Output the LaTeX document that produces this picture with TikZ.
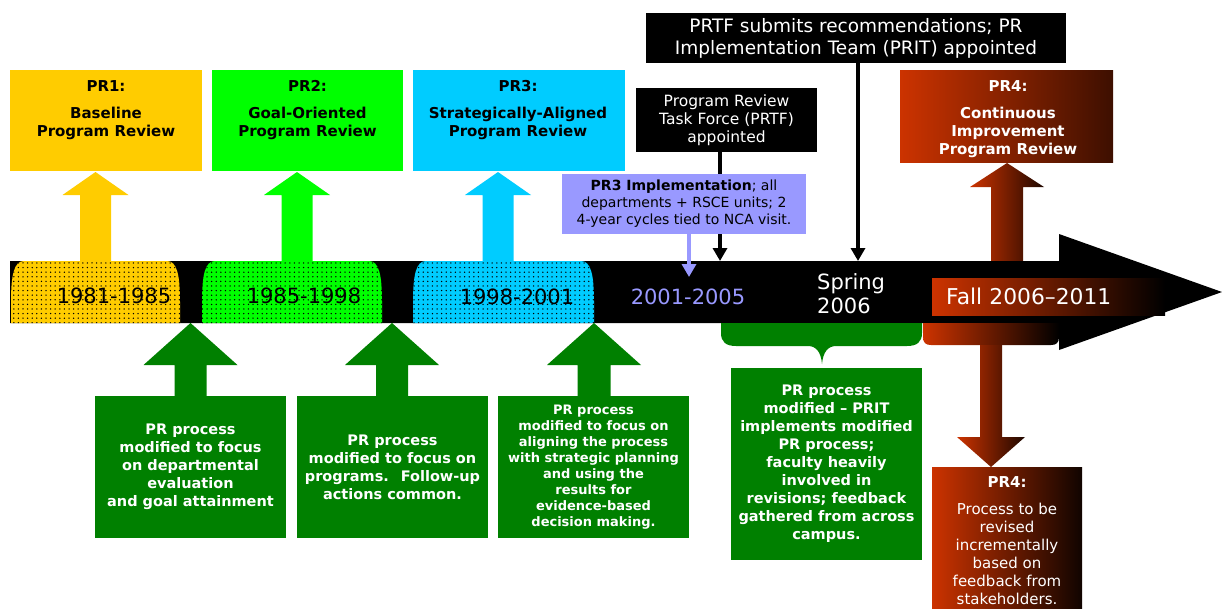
\documentclass[tikz,border=0pt]{standalone}
\usepackage{fontspec}
\setmainfont{DejaVu Sans}
\usetikzlibrary{arrows.meta,patterns.meta}
\definecolor{ylw}{HTML}{FFCC00}
\definecolor{lgrn}{HTML}{00FF00}
\definecolor{cyn}{HTML}{00CCFF}
\definecolor{dgrn}{HTML}{008000}
\definecolor{lav}{HTML}{9999FF}
\definecolor{orng}{HTML}{CC3300}
\begin{document}
\begin{tikzpicture}[x=1pt,y=-1pt,
  blkup/.style n args={6}{insert path={(#1-#6,#4) -- (#1-#6,#3) -- (#1-#5,#3) -- (#1,#2) -- (#1+#5,#3) -- (#1+#6,#3) -- (#1+#6,#4) -- cycle}},
  bump/.style 2 args={insert path={(#1,323) -- (#1,302) .. controls (#1,275) and (#1+3,261) .. (#1+13,261) -- (#2-13,261) .. controls (#2-3,261) and (#2,275) .. (#2,302) -- (#2,323) -- cycle}},
  dotpat/.style={pattern={Dots[radius=0.75pt,distance=4.6pt]}, pattern color=black},
  tbox/.style={minimum height=101pt, inner sep=0pt},
  toptxt/.style={font=\fontsize{15}{18}\selectfont\bfseries, align=center, inner sep=0pt, anchor=north},
  gbox/.style={fill=dgrn, text=white, font=\fontsize{14.5}{18}\selectfont\bfseries, align=center, minimum width=191pt, minimum height=142pt, inner sep=0pt},
  yr/.style={font=\fontsize{21}{24}\selectfont, inner sep=0pt},
  thinarr/.style={line width=4pt, -{Triangle[width=14pt,length=13pt]}}
]
\useasboundingbox (0,0) rectangle (1222,608);

% top block arrows
\fill[ylw, blkup={95.5}{172}{195}{261}{33}{15.5}];
\fill[lgrn, blkup={297}{172}{195}{261}{33}{15.5}];
\fill[cyn, blkup={498}{172}{195}{261}{33}{15.5}];
\shade[left color=orng, right color=orng!15!black, blkup={1007}{163}{187}{261}{37}{16}];

% top boxes
\node[tbox, fill=ylw, minimum width=192pt] (pr1) at (106,120.5) {};
\node[toptxt] (pr1t) at (106,80.5) {PR1:\\[9pt]Baseline\\Program Review};
\node[tbox, fill=lgrn, minimum width=191pt] (pr2) at (307.5,120.5) {};
\node[toptxt] (pr2t) at (307.5,80.5) {PR2:\\[9pt]Goal-Oriented\\Program Review};
\node[tbox, fill=cyn, minimum width=212pt] (pr3) at (519,120.5) {};
\node[toptxt] (pr3t) at (518,80.5) {PR3:\\[9pt]Strategically-Aligned\\Program Review};
\node[inner sep=0pt, minimum width=213pt, minimum height=92pt, left color=orng, right color=orng!30!black] (pr4) at (1006.5,116) {};
\node[toptxt, text=white] (pr4t) at (1008,80.5) {PR4:\\[9pt]Continuous\\Improvement\\Program Review};

% PRTF / PRIT boxes
\node[fill=black, text=white, font=\fontsize{15.5}{18}\selectfont, align=center, minimum width=181pt, minimum height=64pt, inner sep=0pt] (prtf) at (726.5,120) {Program Review\\Task Force (PRTF)\\appointed};
\node[fill=black, text=white, font=\fontsize{18.5}{22}\selectfont, align=center, minimum width=420pt, minimum height=50pt, inner sep=0pt] (prit) at (856,38) {PRTF submits recommendations; PR\\Implementation Team (PRIT) appointed};
\coordinate (t1) at (720,261);
\coordinate (t2) at (858,261);
\coordinate (t3) at (689,277);
\draw[thinarr] (prtf.south -| t1) -- (t1);
\draw[thinarr] (prit.south -| t2) -- (t2);
\node[fill=lav, text=black, font=\fontsize{14}{17}\selectfont, align=center, minimum width=244pt, minimum height=60pt, inner sep=0pt] (lav) at (684,204) {\textbf{PR3 Implementation}; all\\departments + RSCE units; 2\\4-year cycles tied to NCA visit.};

% timeline bar
\fill[black] (10,261) -- (1059,261) -- (1059,234) -- (1222,292) -- (1059,350) -- (1059,323) -- (10,323) -- cycle;
\draw[lav, thinarr] (lav.south -| t3) -- (t3);

% bumps
\fill[ylw, bump={11}{180}];
\fill[dotpat, bump={11}{180}];
\fill[lgrn, bump={202}{382}];
\fill[dotpat, bump={202}{382}];
\fill[cyn, bump={413}{594}];
\fill[dotpat, bump={413}{594}];

\node[yr] (y1) at (114,296) {1981-1985};
\node[yr] (y2) at (304,296) {1985-1998};
\node[yr] (y3) at (517,297) {1998-2001};
\node[yr, text=lav] (y4) at (688,297) {2001-2005};
\node[yr, text=white, align=left, anchor=west] (y5) at (817,294) {Spring\\2006};
\node[font=\fontsize{21.8}{24}\selectfont, text=white, anchor=west, minimum width=233pt, minimum height=37pt, text width=205pt, align=left, inner xsep=14pt, inner ysep=0pt, left color=orng, right color=black] (fall) at (932,296.5) {Fall 2006–2011};

% bottom block arrows
\fill[dgrn, blkup={190.5}{323}{365}{396}{47}{16}];
\fill[dgrn, blkup={392}{323}{365}{396}{47}{16}];
\fill[dgrn, blkup={594}{323}{365}{396}{47}{16.5}];

% braces
\fill[dgrn] (721,323) -- (721,333) .. controls (721,342) and (726,346) .. (736,346) -- (808,346) .. controls (816,346) and (821,352) .. (822,364) .. controls (823,352) and (828,346) .. (836,346) -- (907,346) .. controls (917,346) and (922,342) .. (922,333) -- (922,323) -- cycle;
\shade[left color=orng, right color=black] (923,323) -- (923,337) .. controls (923,343) and (926,345) .. (931,345) -- (1051,345) .. controls (1056,345) and (1059,343) .. (1059,337) -- (1059,323) -- cycle;
\shade[left color=orng, right color=orng!15!black, blkup={991}{467}{437}{345}{34}{11}];

% bottom boxes
\node[gbox] (g1) at (190.5,467) {PR process\\modified to focus\\on departmental\\evaluation\\and goal attainment};
\node[gbox] (g2) at (392.5,467) {PR process\\modified to focus on\\programs.~ Follow-up\\actions common.};
\node[gbox, font=\fontsize{13}{16}\selectfont\bfseries] (g3) at (593.5,467) {PR process\\modified to focus on\\aligning the process\\with strategic planning\\and using the\\results for\\evidence-based\\decision making.};
\node[gbox, minimum height=192pt] (g4) at (826.5,464) {PR process\\modified – PRIT\\implements modified\\PR process;\\faculty heavily\\involved in\\revisions; feedback\\gathered from across\\campus.};

\node[inner sep=0pt, minimum width=150pt, minimum height=145pt, left color=orng, right color=orng!8!black] (pr4b) at (1007,539.5) {};
\node[font=\fontsize{15}{18}\selectfont, text=white, align=center, inner sep=0pt, anchor=north] (pr4bt) at (1007,476.5) {\textbf{PR4:}\\[9pt]Process to be\\revised\\incrementally\\based on\\feedback from\\stakeholders.};
\end{tikzpicture}
\end{document}
